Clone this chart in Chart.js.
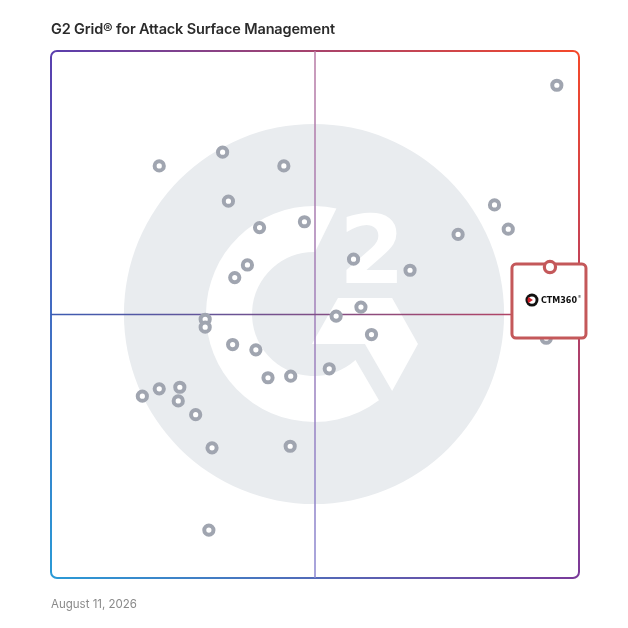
<!DOCTYPE html>
<html>
<head>
<meta charset="utf-8">
<script src="https://cdn.jsdelivr.net/npm/chart.js@4.4.1/dist/chart.umd.min.js"></script>
<style>
  body { margin: 0; background: #fff; }
  #wrap { position: relative; width: 628px; height: 628px; }
  #gridChart { position: absolute; left: 0; top: 0; }
  .title { position: absolute; left: 51px; top: 20px; font: 600 14.5px Inter, "Noto Sans", sans-serif; color: #2b2b2b; letter-spacing: -0.15px; }
  .date { position: absolute; left: 51px; top: 597px; font: 400 11.5px Inter, "Noto Sans", sans-serif; color: #8a8a8a; }
</style>
</head>
<body>
<div id="wrap">
  <canvas id="gridChart" width="628" height="628"></canvas>
  <div class="title">G2 Grid® for Attack Surface Management</div>
  <div class="date">August 11, 2026</div>
</div>
<script>
// satisfaction (x) and market presence (y), 0-100 on both axes
const vendorX = [95.8, 20.5, 32.5, 44.1, 33.6, 39.5, 48.0, 37.2, 34.8, 29.2, 29.2, 34.4, 38.8, 41.1, 45.4, 52.7, 54.0,
                 17.3, 20.5, 24.4, 24.1, 27.4, 30.5, 45.3, 29.9, 57.3, 68.0, 77.1, 84.0, 86.6, 58.7, 60.7, 93.8];
const vendorY = [93.5, 78.2, 80.8, 78.2, 71.5, 66.5, 67.6, 59.4, 57.0, 49.1, 47.6, 44.3, 43.3, 38.0, 38.3, 39.7, 49.7,
                 34.5, 35.9, 36.2, 33.6, 31.0, 24.7, 25.0, 9.1, 60.5, 58.4, 65.2, 70.8, 66.2, 51.4, 46.2, 45.5];
const highlightName = 'CTM360';
const highlightX = [94.5];
const highlightY = [59.0];
const midValue = 50;

const vendorPoints = vendorX.map((x, i) => ({ x: x, y: vendorY[i] }));
const highlightPoints = highlightX.map((x, i) => ({ x: x, y: highlightY[i] }));

// G2 watermark behind everything
const watermark = {
  id: 'watermark',
  beforeDatasetsDraw(chart) {
    const { ctx, chartArea, scales } = chart;
    const cx = scales.x.getPixelForValue(midValue) - 1;
    const cy = scales.y.getPixelForValue(midValue) - 0.5;
    const R = (chartArea.right - chartArea.left) * 0.36;
    const deg = Math.PI / 180;
    ctx.save();
    ctx.fillStyle = '#e9ecef';
    ctx.beginPath();
    ctx.arc(cx, cy, R, 0, Math.PI * 2);
    ctx.fill();

    ctx.fillStyle = '#ffffff';
    // the "G" ring
    const ro = R * 0.568, ri = R * 0.326;
    ctx.beginPath();
    ctx.arc(cx, cy, ro, -78 * deg, 53 * deg, true);
    ctx.lineTo(cx + ri * Math.cos(48 * deg), cy + ri * Math.sin(48 * deg));
    ctx.arc(cx, cy, ri, 48 * deg, 271 * deg, false);
    ctx.closePath();
    ctx.fill();

    // the "2"
    ctx.font = 'bold ' + Math.round(R * 0.5) + 'px "DejaVu Sans", sans-serif';
    ctx.textAlign = 'center';
    ctx.textBaseline = 'alphabetic';
    ctx.fillText('2', cx + R * 0.305, cy - R * 0.163);

    // chevron
    const chev = [[0.126, -0.084], [0.411, -0.084], [0.547, 0.158], [0.411, 0.405], [0.268, 0.158], [-0.011, 0.158]];
    ctx.beginPath();
    chev.forEach((p, i) => {
      const px = cx + p[0] * R, py = cy + p[1] * R;
      if (i === 0) ctx.moveTo(px, py); else ctx.lineTo(px, py);
    });
    ctx.closePath();
    ctx.fill();
    ctx.restore();
  }
};

// gradient frame + quadrant lines
const frame = {
  id: 'frame',
  beforeDatasetsDraw(chart) {
    const { ctx, chartArea, scales } = chart;
    const l = chartArea.left, t = chartArea.top, r = chartArea.right, b = chartArea.bottom;
    const rad = 6;
    const cTL = '#5a3fae', cTR = '#f5482a', cBL = '#2a9ad6', cBR = '#7a3a9a';
    ctx.save();
    ctx.lineWidth = 2;

    function edge(x0, y0, x1, y1, c0, c1, path) {
      const g = ctx.createLinearGradient(x0, y0, x1, y1);
      g.addColorStop(0, c0);
      g.addColorStop(1, c1);
      ctx.strokeStyle = g;
      ctx.beginPath();
      path();
      ctx.stroke();
    }
    edge(l, t, r, t, cTL, cTR, () => {
      ctx.moveTo(l, t + rad); ctx.arcTo(l, t, l + rad, t, rad);
      ctx.lineTo(r - rad, t); ctx.arcTo(r, t, r, t + rad, rad);
    });
    edge(l, b, r, b, cBL, cBR, () => {
      ctx.moveTo(l, b - rad); ctx.arcTo(l, b, l + rad, b, rad);
      ctx.lineTo(r - rad, b); ctx.arcTo(r, b, r, b - rad, rad);
    });
    edge(l, t, l, b, cTL, cBL, () => { ctx.moveTo(l, t + rad); ctx.lineTo(l, b - rad); });
    edge(r, t, r, b, cTR, cBR, () => { ctx.moveTo(r, t + rad); ctx.lineTo(r, b - rad); });

    ctx.lineWidth = 1.5;
    const mx = scales.x.getPixelForValue(midValue);
    const my = scales.y.getPixelForValue(midValue);
    edge(mx, t, mx, b, '#b87aa4', '#8a86d0', () => { ctx.moveTo(mx, t); ctx.lineTo(mx, b); });
    edge(l, my, r, my, '#3d5cb2', '#c2405a', () => { ctx.moveTo(l, my); ctx.lineTo(r, my); });
    ctx.restore();
  }
};

// highlighted vendor card, drawn after the grey dots and before the red dot
const card = {
  id: 'card',
  afterDatasetDraw(chart, args) {
    if (args.index !== 1) return;
    const { ctx, scales } = chart;
    const px = scales.x.getPixelForValue(highlightX[0]) - 1;
    const py = scales.y.getPixelForValue(highlightY[0]);
    const w = 74, h = 74;
    const x = px - w / 2, y = py - 3;
    ctx.save();
    ctx.fillStyle = '#ffffff';
    ctx.strokeStyle = '#c4585a';
    ctx.lineWidth = 3;
    ctx.beginPath();
    ctx.roundRect(x, y, w, h, 4);
    ctx.fill();
    ctx.stroke();

    // logo icon
    const ix = x + 20, iy = y + 36;
    ctx.beginPath();
    ctx.arc(ix, iy, 6.5, 0, Math.PI * 2);
    ctx.fillStyle = '#111';
    ctx.fill();
    ctx.beginPath();
    ctx.arc(ix, iy, 3.6, 0, Math.PI * 2);
    ctx.fillStyle = '#fff';
    ctx.fill();
    ctx.beginPath();
    ctx.moveTo(ix + 1, iy);
    ctx.arc(ix + 1, iy, 5.5, Math.PI * 0.82, Math.PI * 1.18);
    ctx.closePath();
    ctx.fillStyle = '#d0202a';
    ctx.fill();

    ctx.fillStyle = '#111';
    ctx.font = 'bold 8px "DejaVu Sans", sans-serif';
    ctx.textAlign = 'left';
    ctx.textBaseline = 'middle';
    ctx.fillText(highlightName, ix + 9, iy + 0.5);
    const tw = ctx.measureText(highlightName).width;
    ctx.font = '4px "DejaVu Sans", sans-serif';
    ctx.fillText('®', ix + 9.5 + tw, iy - 3);
    ctx.restore();
  }
};

const ctx = document.getElementById('gridChart').getContext('2d');
const gridChart = new Chart(ctx, {
  type: 'scatter',
  data: {
    datasets: [{
      label: highlightName,
      data: highlightPoints,
      pointRadius: 5.6,
      borderWidth: 3.2,
      borderColor: '#c4585a',
      backgroundColor: '#ffffff',
      clip: false
    }, {
      label: 'Vendors',
      data: vendorPoints,
      pointRadius: 4.6,
      borderWidth: 4.0,
      borderColor: '#a0a5b0',
      backgroundColor: '#ffffff',
      clip: false
    }]
  },
  options: {
    responsive: false,
    animation: false,
    layout: { padding: { left: 51, right: 49, top: 51, bottom: 50 } },
    scales: {
      x: { type: 'linear', min: 0, max: 100, display: false },
      y: { type: 'linear', min: 0, max: 100, display: false }
    },
    plugins: {
      legend: { display: false },
      tooltip: { enabled: false }
    },
    events: []
  },
  plugins: [watermark, frame, card]
});
</script>
</body>
</html>
